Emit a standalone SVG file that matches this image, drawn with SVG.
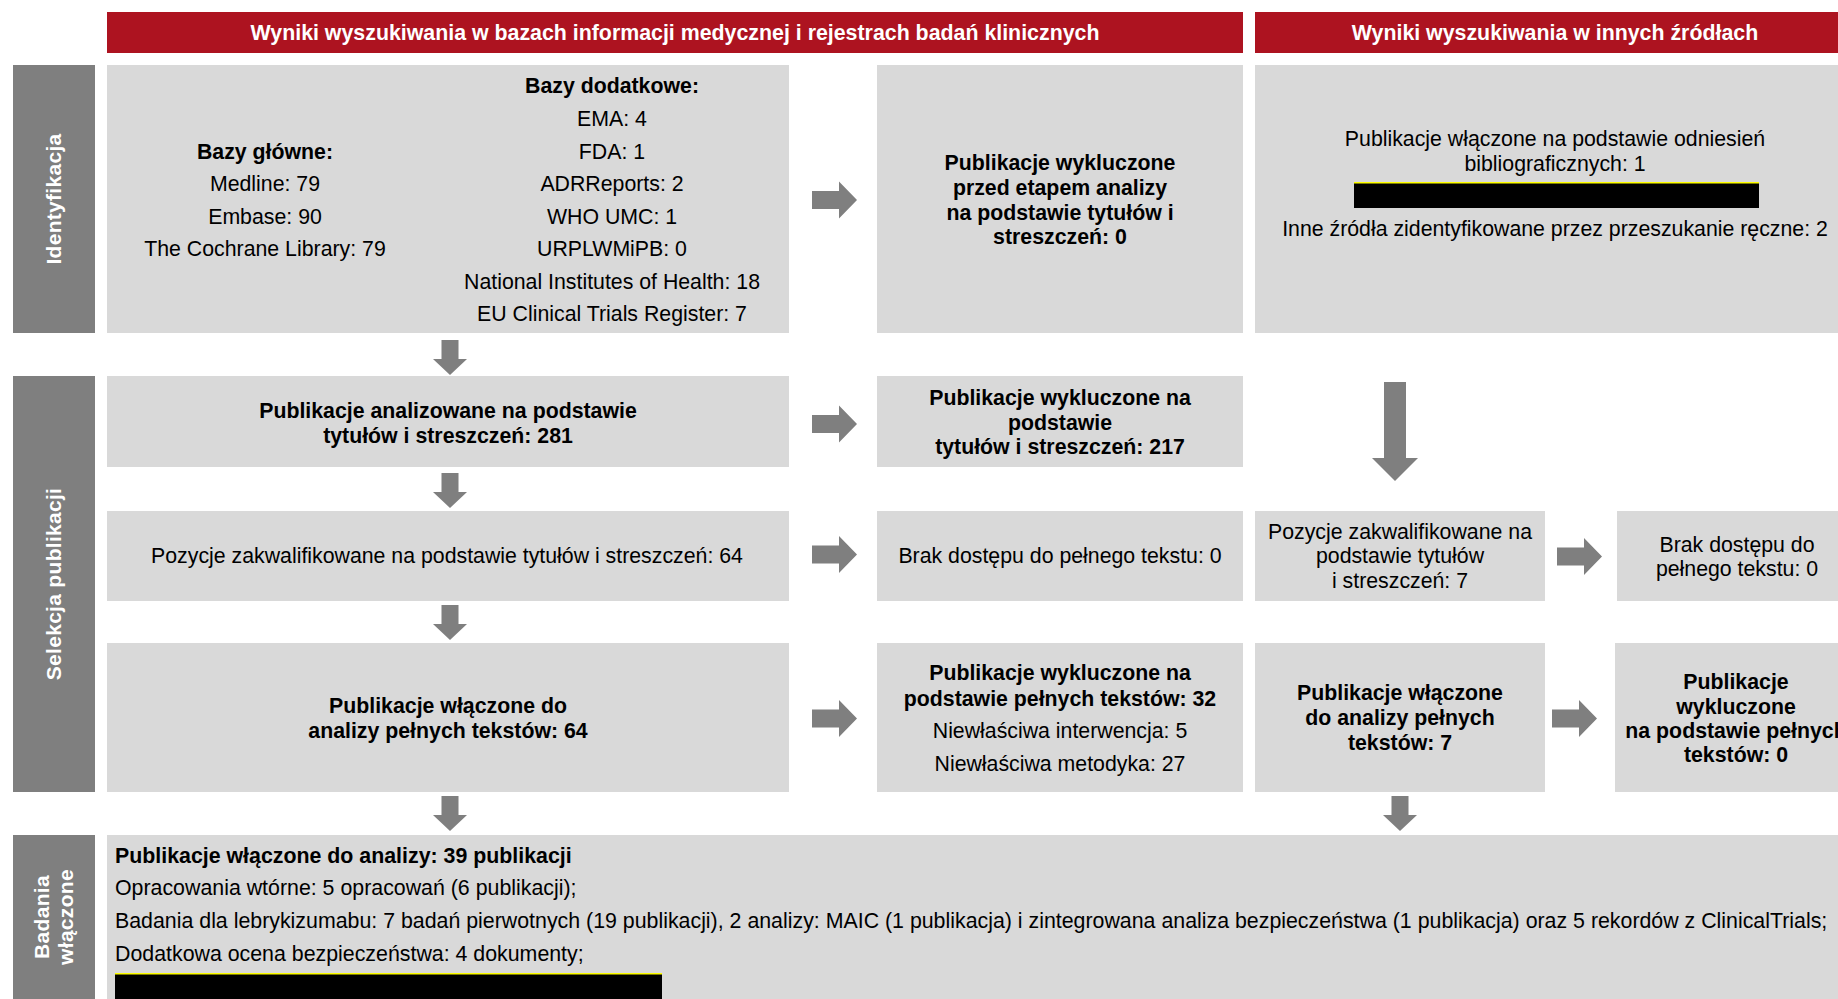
<svg xmlns="http://www.w3.org/2000/svg" width="1838" height="999" viewBox="0 0 1838 999">
<style>
.hdr{fill:#AD1320}
.hdrt{fill:#FFFFFF;font-family:"Liberation Sans",Arial,sans-serif;font-size:21.35px;font-weight:bold;text-anchor:middle}
.bar{fill:#7F7F7F}
.bart{fill:#FFFFFF;font-family:"Liberation Sans",Arial,sans-serif;font-size:21px;font-weight:bold;text-anchor:middle;letter-spacing:0.3px}
.box{fill:#D9D9D9}
.t{fill:#000000;font-family:"Liberation Sans",Arial,sans-serif;font-size:21.3px;text-anchor:middle}
.tl{fill:#000000;font-family:"Liberation Sans",Arial,sans-serif;font-size:21.35px}
.b{font-weight:bold}
.arr{fill:#7F7F7F}
.red{fill:#000000}
.redl{fill:#FFFF00}
</style>
<defs>
<path id="ra" d="M0,-9 H27 V-18.5 L45,0 L27,18.5 V9 H0 Z"/>
<path id="da" d="M-8.5,0 H8.5 V19 H17 L0,35 L-17,19 H-8.5 Z"/>
</defs>
<rect width="1838" height="999" fill="#FFFFFF"/>

<g id="header-1">
<rect class="hdr" x="107" y="12" width="1136" height="41"/>
<text class="hdrt" x="675" y="40">Wyniki wyszukiwania w bazach informacji medycznej i rejestrach badań klinicznych</text>
</g>
<g id="header-2">
<rect class="hdr" x="1255" y="12" width="583" height="41"/>
<text class="hdrt" x="1555" y="40">Wyniki wyszukiwania w innych źródłach</text>
</g>

<g id="stage-identyfikacja">
<rect class="bar" x="13" y="65" width="82" height="268"/>
<text class="bart" x="54" y="206" transform="rotate(-90 54 199)">Identyfikacja</text>
</g>
<g id="stage-selekcja">
<rect class="bar" x="13" y="376" width="82" height="416"/>
<text class="bart" x="54" y="591" transform="rotate(-90 54 584)">Selekcja publikacji</text>
</g>
<g id="stage-badania">
<rect class="bar" x="13" y="835" width="82" height="164"/>
<text class="bart" transform="rotate(-90 54 917)"><tspan x="54" y="912">Badania</tspan><tspan x="54" y="936">włączone</tspan></text>
</g>

<g id="node-bazy">
<rect class="box" x="107" y="65" width="682" height="268"/>
<text class="t b" x="265" y="158.5">Bazy główne:</text>
<text class="t" x="265" y="191">Medline: 79</text>
<text class="t" x="265" y="223.5">Embase: 90</text>
<text class="t" x="265" y="256">The Cochrane Library: 79</text>
<text class="t b" x="612" y="93">Bazy dodatkowe:</text>
<text class="t" x="612" y="125.5">EMA: 4</text>
<text class="t" x="612" y="158.5">FDA: 1</text>
<text class="t" x="612" y="191">ADRReports: 2</text>
<text class="t" x="612" y="223.5">WHO UMC: 1</text>
<text class="t" x="612" y="256">URPLWMiPB: 0</text>
<text class="t" x="612" y="288.5">National Institutes of Health: 18</text>
<text class="t" x="612" y="321">EU Clinical Trials Register: 7</text>
</g>

<g id="node-wykluczone-przed">
<rect class="box" x="877" y="65" width="366" height="268"/>
<text class="t b" x="1060" y="169.5">Publikacje wykluczone</text>
<text class="t b" x="1060" y="194.5">przed etapem analizy</text>
<text class="t b" x="1060" y="219.5">na podstawie tytułów i</text>
<text class="t b" x="1060" y="244">streszczeń: 0</text>
</g>

<g id="node-inne-zrodla">
<rect class="box" x="1255" y="65" width="583" height="268"/>
<text class="t" x="1555" y="146">Publikacje włączone na podstawie odniesień</text>
<text class="t" x="1555" y="171">bibliograficznych: 1</text>
<rect class="red" x="1354" y="182" width="405" height="26"/>
<rect class="redl" x="1354" y="182" width="405" height="1.5"/>
<text class="t" x="1555" y="236">Inne źródła zidentyfikowane przez przeszukanie ręczne: 2</text>
</g>

<g id="node-analizowane">
<rect class="box" x="107" y="376" width="682" height="91"/>
<text class="t b" x="448" y="417.5">Publikacje analizowane na podstawie</text>
<text class="t b" x="448" y="442.5">tytułów i streszczeń: 281</text>
</g>

<g id="node-wykluczone-tytuly">
<rect class="box" x="877" y="376" width="366" height="91"/>
<text class="t b" x="1060" y="405">Publikacje wykluczone na</text>
<text class="t b" x="1060" y="429.5">podstawie</text>
<text class="t b" x="1060" y="454">tytułów i streszczeń: 217</text>
</g>

<g id="node-zakwalifikowane">
<rect class="box" x="107" y="511" width="682" height="90"/>
<text class="t" x="447" y="563">Pozycje zakwalifikowane na podstawie tytułów i streszczeń: 64</text>
</g>

<g id="node-brak-dostepu">
<rect class="box" x="877" y="511" width="366" height="90"/>
<text class="t" x="1060" y="563">Brak dostępu do pełnego tekstu: 0</text>
</g>

<g id="node-zakwalifikowane-inne">
<rect class="box" x="1255" y="511" width="290" height="90"/>
<text class="t" x="1400" y="538.5">Pozycje zakwalifikowane na</text>
<text class="t" x="1400" y="563">podstawie tytułów</text>
<text class="t" x="1400" y="587.5">i streszczeń: 7</text>
</g>

<g id="node-brak-dostepu-inne">
<rect class="box" x="1617" y="511" width="221" height="90"/>
<text class="t" x="1737" y="551.5">Brak dostępu do</text>
<text class="t" x="1737" y="576">pełnego tekstu: 0</text>
</g>

<g id="node-wlaczone-pelne">
<rect class="box" x="107" y="643" width="682" height="149"/>
<text class="t b" x="448" y="713">Publikacje włączone do</text>
<text class="t b" x="448" y="737.5">analizy pełnych tekstów: 64</text>
</g>

<g id="node-wykluczone-pelne">
<rect class="box" x="877" y="643" width="366" height="149"/>
<text class="t b" x="1060" y="680">Publikacje wykluczone na</text>
<text class="t b" x="1060" y="706">podstawie pełnych tekstów: 32</text>
<text class="t" x="1060" y="738">Niewłaściwa interwencja: 5</text>
<text class="t" x="1060" y="770.5">Niewłaściwa metodyka: 27</text>
</g>

<g id="node-wlaczone-pelne-inne">
<rect class="box" x="1255" y="643" width="290" height="149"/>
<text class="t b" x="1400" y="700">Publikacje włączone</text>
<text class="t b" x="1400" y="725">do analizy pełnych</text>
<text class="t b" x="1400" y="749.5">tekstów: 7</text>
</g>

<g id="node-wykluczone-pelne-inne">
<rect class="box" x="1615" y="643" width="223" height="149"/>
<text class="t b" x="1736" y="688.5">Publikacje</text>
<text class="t b" x="1736" y="714">wykluczone</text>
<text class="t b" x="1736" y="737.5">na podstawie pełnych</text>
<text class="t b" x="1736" y="762">tekstów: 0</text>
</g>

<g id="node-wlaczone-analiza">
<rect class="box" x="107" y="835" width="1731" height="164"/>
<text class="tl b" x="115" y="863">Publikacje włączone do analizy: 39 publikacji</text>
<text class="tl" x="115" y="895">Opracowania wtórne: 5 opracowań (6 publikacji);</text>
<text class="tl" x="115" y="927.5">Badania dla lebrykizumabu: 7 badań pierwotnych (19 publikacji), 2 analizy: MAIC (1 publikacja) i zintegrowana analiza bezpieczeństwa (1 publikacja) oraz 5 rekordów z ClinicalTrials;</text>
<text class="tl" x="115" y="960.5">Dodatkowa ocena bezpieczeństwa: 4 dokumenty;</text>
<rect class="red" x="115" y="973" width="547" height="26"/>
<rect class="redl" x="115" y="973" width="547" height="1.5"/>
</g>

<g id="connectors">
<use href="#ra" class="arr" x="812" y="200"/>
<use href="#ra" class="arr" x="812" y="424"/>
<use href="#ra" class="arr" x="812" y="554.5"/>
<use href="#ra" class="arr" x="1557" y="556.5"/>
<use href="#ra" class="arr" x="812" y="718.5"/>
<use href="#ra" class="arr" x="1552" y="718.5"/>
<use href="#da" class="arr" x="450" y="340"/>
<use href="#da" class="arr" x="450" y="473"/>
<use href="#da" class="arr" x="450" y="605"/>
<use href="#da" class="arr" x="450" y="796"/>
<use href="#da" class="arr" x="1400" y="796"/>
<path class="arr" d="M1384,382 H1406 V458 H1418 L1395,481 L1372,458 H1384 Z"/>
</g>
</svg>
